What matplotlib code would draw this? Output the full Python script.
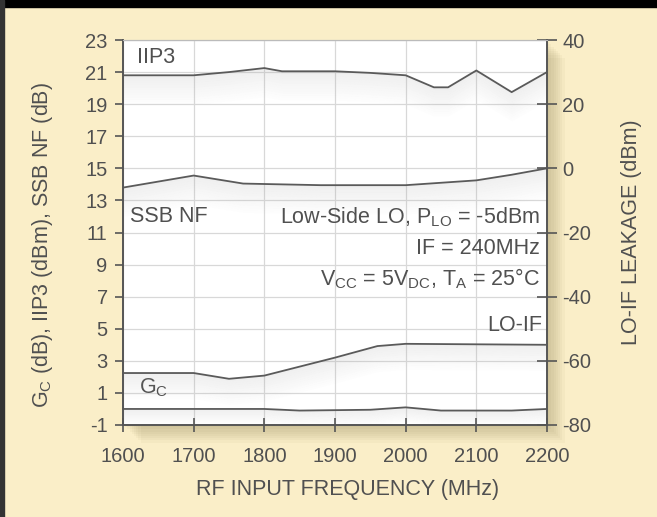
import matplotlib.pyplot as plt
from matplotlib.patches import Rectangle

plt.rcParams['font.family'] = ['Liberation Sans', 'DejaVu Sans']
plt.rcParams['mathtext.default'] = 'regular'
plt.rcParams['axes.unicode_minus'] = False

# IIP3 (dBm), left axis
iip3_freq = [1600, 1700, 1750, 1800, 1825, 1900, 1950, 2000, 2040, 2060, 2100, 2150, 2200]
iip3 = [20.8, 20.8, 21.0, 21.25, 21.05, 21.05, 20.95, 20.8, 20.05, 20.05, 21.1, 19.75, 21.0]

# SSB noise figure (dB), left axis
nf_freq = [1600, 1700, 1770, 1880, 2000, 2100, 2150, 2200]
ssb_nf = [13.8, 14.55, 14.05, 13.95, 13.95, 14.25, 14.6, 15.0]

# conversion gain (dB), left axis
gc_freq = [1600, 1700, 1800, 1850, 1950, 2000, 2050, 2150, 2200]
gc = [0.0, 0.0, 0.0, -0.1, -0.05, 0.1, -0.1, -0.1, 0.0]

# LO-IF leakage (dBm), right axis
lo_freq = [1600, 1700, 1750, 1800, 1900, 1960, 2000, 2200]
lo_if = [-63.8, -63.8, -65.6, -64.6, -59.0, -55.4, -54.7, -55.0]

bg = '#faeec8'
txt = '#505050'
line_c = '#5a5a5a'
fs = 15.5

fig = plt.figure(figsize=(6.57, 5.17), dpi=100, facecolor=bg)

# black border strips at the top and left edge
fig.patches.append(Rectangle((0, 1 - 7 / 517), 1, 7 / 517, transform=fig.transFigure, color='black', zorder=5))
fig.patches.append(Rectangle((0, 0), 4 / 657, 1, transform=fig.transFigure, color='#333333', zorder=5))

l, b, w, h = 123 / 657, 1 - 425 / 517, (547 - 123) / 657, (425 - 40) / 517

# soft drop shadow to the right and below the plot box
for k in range(8):
    dx = (k + 1) * 2.2 / 657
    dy = (k + 1) * 2.2 / 517
    fig.patches.append(Rectangle((l + dx, b - dy), w, h, transform=fig.transFigure,
                                 color='#8a7a50', alpha=0.05, lw=0, zorder=-2))

ax = fig.add_axes([l, b, w, h])
ax.set_facecolor('white')
ax.set_xlim(1600, 2200)
ax.set_ylim(-1, 23)
ax.set_xticks(range(1600, 2201, 100))
ax.set_yticks(range(-1, 24, 2))
ax.grid(True, color='#d8d8d8', lw=0.9)
ax.set_axisbelow(True)

ax2 = ax.twinx()
ax2.set_ylim(-80, 40)
ax2.set_yticks(range(-80, 41, 20))


def shaded(a, x, y, depth, steps=12):
    # gray shadow under a curve, fading downward
    for k in range(steps):
        top = [v - depth * k / steps for v in y]
        bot = [v - depth * (k + 1) / steps for v in y]
        a.fill_between(x, bot, top, color='#9a9a9a', alpha=0.15 * (1 - k / steps), lw=0)
    a.plot(x, y, color=line_c, lw=1.3, zorder=3)


shaded(ax, iip3_freq, iip3, 1.8)
shaded(ax, nf_freq, ssb_nf, 1.8)
shaded(ax, gc_freq, gc, 0.9)
shaded(ax2, lo_freq, lo_if, 8.0)

for s in ['left', 'bottom', 'right']:
    ax.spines[s].set_color('#555555')
    ax2.spines[s].set_color('#555555')
    ax.spines[s].set_linewidth(1.2)
    ax2.spines[s].set_linewidth(1.2)
ax.spines['top'].set_color('#bbbbbb')
ax2.spines['top'].set_color('#bbbbbb')

ax.tick_params(axis='y', direction='out', length=6, width=1.2, pad=5, colors='#555555',
               labelsize=14.5, labelcolor=txt)
ax.tick_params(axis='x', direction='inout', length=10, width=1.2, pad=11, colors='#555555',
               labelsize=14.5, labelcolor=txt)
ax2.tick_params(axis='y', direction='inout', length=14, width=1.2, pad=4, colors='#555555',
                labelsize=14.5, labelcolor=txt)

ax.text(1620, 21.9, 'IIP3', fontsize=fs, color=txt, va='center')
ax.text(1610, 12.0, 'SSB NF', fontsize=fs, color=txt, va='center')
ax.text(2190, 11.95, 'Low-Side LO, P$_{LO}$ = -5dBm', fontsize=fs, color=txt, ha='right', va='center')
ax.text(2190, 10.0, 'IF = 240MHz', fontsize=fs, color=txt, ha='right', va='center')
ax.text(2190, 8.1, 'V$_{CC}$ = 5V$_{DC}$, T$_A$ = 25°C', fontsize=fs, color=txt, ha='right', va='center')
ax.text(2155, 5.2, 'LO-IF', fontsize=fs, color=txt, ha='center', va='center')
ax.text(1622, 1.3, 'G$_C$', fontsize=fs, color=txt, va='center')

fig.text(43 / 657, 1 - 245 / 517, 'G$_C$ (dB), IIP3 (dBm), SSB NF (dB)', rotation=90,
         fontsize=fs, color=txt, ha='center', va='center')
fig.text(632 / 657, 1 - 232 / 517, 'LO-IF LEAKAGE (dBm)', rotation=90,
         fontsize=fs, color=txt, ha='center', va='center')
fig.text(348 / 657, 1 - 490 / 517, 'RF INPUT FREQUENCY (MHz)',
         fontsize=fs, color=txt, ha='center', va='center')

fig.savefig('out.png', dpi=100, facecolor=bg)
